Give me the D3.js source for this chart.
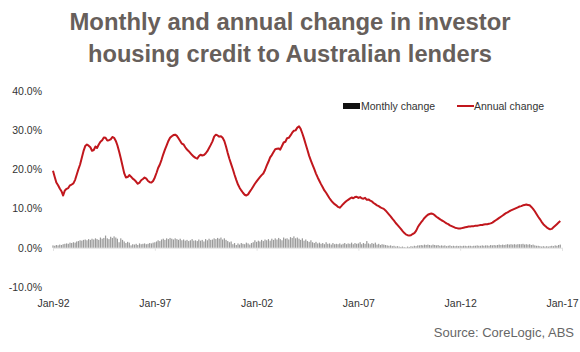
<!DOCTYPE html>
<html>
<head>
<meta charset="utf-8">
<script src="https://cdn.jsdelivr.net/npm/d3@7"></script>
<style>
  body { margin: 0; background: #fff; }
  svg { display: block; }
</style>
</head>
<body>
<div id="chart"></div>
<script>
// data (monthly, Jan-92 .. Dec-16)
const titleLines = [
  'Monthly and annual change in investor',
  'housing credit to Australian lenders'
];
const seriesNames = ['Monthly change', 'Annual change'];
const startYear = 1992;
const yTicks = [-10, 0, 10, 20, 30, 40];
const xTickYears = [1992, 1997, 2002, 2007, 2012, 2017];

const annualChange = [
  19.6, 18.0, 16.6, 15.9, 15.1, 14.4, 13.3, 14.6, 15.0, 15.2, 15.9, 16.1, // 1992
  16.4, 17.3, 18.6, 20.0, 21.2, 22.9, 24.6, 25.9, 26.3, 26.0, 25.6, 24.7, // 1993
  24.9, 25.8, 25.4, 26.3, 27.0, 27.4, 28.1, 28.0, 27.3, 27.4, 27.6, 28.2, // 1994
  28.0, 27.2, 26.1, 24.5, 22.8, 20.9, 19.0, 17.9, 18.0, 18.5, 18.1, 17.6, // 1995
  17.3, 16.8, 16.3, 16.6, 17.2, 17.5, 17.9, 17.6, 17.0, 16.7, 16.6, 17.0, // 1996
  17.9, 19.1, 20.3, 21.2, 22.4, 23.8, 25.0, 26.1, 27.2, 28.0, 28.4, 28.7, // 1997
  28.8, 28.5, 27.9, 27.2, 26.5, 26.3, 25.6, 25.0, 24.6, 24.1, 23.6, 23.2, // 1998
  22.9, 22.7, 23.3, 23.7, 23.5, 23.6, 24.0, 24.6, 25.4, 26.2, 27.1, 28.3, // 1999
  28.8, 28.6, 28.3, 28.4, 28.0, 27.2, 25.8, 24.1, 22.6, 21.3, 20.0, 18.6, // 2000
  17.3, 16.1, 15.3, 14.6, 14.0, 13.5, 13.3, 13.6, 14.3, 14.9, 15.6, 16.3, // 2001
  16.9, 17.5, 18.0, 18.5, 18.9, 19.8, 20.9, 21.9, 23.0, 23.6, 24.4, 25.1, // 2002
  25.2, 25.3, 25.0, 25.9, 26.8, 27.0, 27.9, 28.0, 28.6, 29.3, 29.8, 29.9, // 2003
  30.6, 30.9, 30.3, 29.1, 27.8, 26.3, 24.9, 23.4, 22.2, 21.1, 20.0, 18.9, // 2004
  17.9, 17.0, 16.2, 15.4, 14.6, 14.0, 13.3, 12.6, 12.0, 11.5, 11.1, 10.8, // 2005
  10.4, 10.2, 10.6, 11.1, 11.5, 11.9, 12.2, 12.5, 12.8, 12.6, 12.9, 13.0, // 2006
  12.7, 12.9, 12.6, 12.5, 12.7, 12.2, 12.3, 12.0, 11.8, 11.4, 11.1, 10.8, // 2007
  10.6, 10.3, 10.1, 9.9, 9.5, 9.0, 8.5, 8.0, 7.4, 6.9, 6.3, 5.8, // 2008
  5.3, 4.8, 4.3, 3.8, 3.4, 3.2, 3.1, 3.2, 3.5, 3.7, 4.3, 5.2, // 2009
  5.9, 6.5, 7.0, 7.6, 8.0, 8.4, 8.6, 8.7, 8.6, 8.3, 7.9, 7.6, // 2010
  7.3, 7.0, 6.8, 6.5, 6.2, 6.0, 5.7, 5.5, 5.3, 5.1, 5.0, 4.9, // 2011
  4.9, 5.0, 5.1, 5.2, 5.3, 5.4, 5.4, 5.5, 5.5, 5.6, 5.6, 5.7, // 2012
  5.8, 5.8, 5.9, 6.0, 6.0, 6.1, 6.2, 6.4, 6.7, 7.0, 7.3, 7.6, // 2013
  7.9, 8.2, 8.5, 8.8, 9.0, 9.3, 9.5, 9.7, 9.9, 10.1, 10.3, 10.5, // 2014
  10.6, 10.8, 10.9, 11.0, 10.9, 10.8, 10.4, 9.9, 9.3, 8.6, 7.9, 7.3, // 2015
  6.6, 6.0, 5.6, 5.2, 4.9, 4.7, 4.8, 5.2, 5.6, 6.0, 6.4, 6.8 // 2016
];

const monthlyChange = [
  0.6, 0.5, 0.7, 0.6, 0.8, 0.7, 0.9, 1.0, 1.1, 1.0, 1.3, 1.2, // 1992
  1.4, 1.3, 1.6, 1.7, 1.9, 1.8, 2.0, 2.1, 1.9, 2.2, 2.0, 2.3, // 1993
  2.1, 2.4, 2.2, 2.0, 2.6, 2.3, 2.5, 3.1, 2.4, 2.2, 2.8, 2.5, // 1994
  2.9, 2.6, 2.3, 1.4, 2.4, 2.0, 1.6, 1.2, 1.5, 1.3, 0.6, 0.9, // 1995
  0.8, 1.0, 0.7, 1.1, 0.9, 1.0, 1.1, 0.9, 1.0, 1.2, 1.1, 1.3, // 1996
  1.4, 1.6, 1.9, 1.7, 2.1, 2.3, 2.0, 2.4, 2.2, 2.5, 2.3, 2.1, // 1997
  2.4, 2.2, 2.0, 2.3, 1.9, 2.1, 1.8, 2.0, 1.7, 1.9, 2.2, 1.8, // 1998
  1.9, 1.7, 2.1, 1.8, 2.0, 1.6, 2.2, 1.9, 2.3, 2.0, 2.1, 2.4, // 1999
  2.2, 2.5, 2.3, 2.6, 2.1, 2.4, 2.0, 1.7, 1.4, 1.6, 0.9, 1.2, // 2000
  0.7, 1.1, 0.8, 1.2, 1.0, 0.9, 1.3, 1.1, 0.8, 1.2, 1.4, 1.9, // 2001
  1.5, 1.8, 1.6, 2.0, 1.7, 2.1, 1.9, 2.2, 1.8, 2.3, 2.0, 2.4, // 2002
  2.1, 2.5, 2.2, 1.9, 2.6, 2.3, 2.4, 2.1, 2.7, 2.5, 2.9, 2.4, // 2003
  2.6, 2.3, 2.0, 2.4, 1.8, 2.1, 1.7, 1.5, 1.9, 1.4, 1.2, 1.5, // 2004
  1.1, 1.3, 1.0, 1.2, 0.9, 1.4, 1.0, 1.1, 0.8, 1.2, 0.9, 1.0, // 2005
  0.9, 1.1, 0.8, 1.0, 1.2, 0.9, 1.1, 1.0, 1.3, 0.9, 1.2, 1.0, // 2006
  1.1, 1.4, 0.9, 1.2, 1.0, 1.7, 1.1, 0.9, 1.2, 1.0, 1.3, 0.8, // 2007
  1.0, 0.7, 0.9, 0.8, 0.7, 0.6, 0.5, 0.6, 0.4, 0.5, 0.3, 0.4, // 2008
  0.3, 0.2, 0.3, 0.2, 0.1, 0.3, 0.2, 0.4, 0.3, 0.5, 0.4, 0.6, // 2009
  0.6, 0.7, 0.6, 0.8, 0.7, 0.8, 0.7, 0.6, 0.8, 0.7, 0.6, 0.7, // 2010
  0.5, 0.6, 0.5, 0.6, 0.4, 0.5, 0.6, 0.4, 0.5, 0.4, 0.5, 0.4, // 2011
  0.5, 0.4, 0.5, 0.5, 0.4, 0.5, 0.5, 0.4, 0.5, 0.5, 0.6, 0.5, // 2012
  0.5, 0.6, 0.5, 0.6, 0.6, 0.5, 0.7, 0.6, 0.7, 0.6, 0.7, 0.8, // 2013
  0.7, 0.8, 0.7, 0.8, 0.9, 0.8, 0.9, 0.8, 0.9, 0.8, 0.9, 0.9, // 2014
  0.9, 1.0, 0.8, 0.9, 0.8, 0.9, 0.7, 0.8, 0.6, 0.5, 0.5, 0.4, // 2015
  0.3, 0.4, 0.3, 0.4, 0.3, 0.4, 0.5, 0.4, 0.6, 0.5, 0.7, 0.8 // 2016
];

const option = {
  width: 580,
  height: 352,
  plot: {left: 53, right: 562, top: 90.7, bottom: 287},
  red: '#c1171d',
  grey: '#9a9a9a',
  textColor: '#333'
};

const monthDate = (i) => new Date(startYear + Math.floor(i / 12), i % 12, 1);

const rows = annualChange.map((v, i) => ({
  date: monthDate(i),
  annual: v,
  monthly: monthlyChange[i]
}));

const svg = d3.select('#chart')
    .append('svg')
    .attr('width', option.width)
    .attr('height', option.height);

// title
svg.selectAll('.title')
    .data(titleLines)
    .enter()
    .append('text')
    .attr('class', 'title')
    .attr('x', 290)
    .attr('y', (d, i) => 30 + i * 31.5)
    .attr('text-anchor', 'middle')
    .attr('textLength', (d, i) => i === 0 ? 441 : 404)
    .attr('lengthAdjust', 'spacingAndGlyphs')
    .style('font-family', '"Liberation Sans", Arial, sans-serif')
    .style('font-weight', 'bold')
    .style('font-size', '23.5px')
    .style('fill', '#675f5b')
    .text((d) => d);

// scales
const x = d3.scaleTime()
    .domain([new Date(1992, 0, 1), new Date(2017, 0, 1)])
    .range([option.plot.left, option.plot.right]);

const y = d3.scaleLinear()
    .domain([-10, 40])
    .range([option.plot.bottom, option.plot.top]);

// y axis labels only
const yAxis = svg.append('g')
    .attr('transform', 'translate(42,0)')
    .call(d3.axisLeft(y)
        .tickValues(yTicks)
        .tickSize(0)
        .tickPadding(0)
        .tickFormat((d) => d.toFixed(1) + '%'));
yAxis.select('.domain').remove();
yAxis.selectAll('text')
    .style('font-family', '"Liberation Sans", Arial, sans-serif')
    .style('font-size', '10.5px')
    .style('fill', option.textColor);

// faint zero axis with ticks
const zeroAxis = svg.append('g')
    .attr('transform', `translate(0,${y(0)})`)
    .call(d3.axisBottom(x)
        .tickValues(xTickYears.map((yr) => new Date(yr, 0, 1)))
        .tickSize(3)
        .tickFormat(''));
zeroAxis.selectAll('path, line').attr('stroke', '#e2e2e2');

// x axis labels at bottom
const xAxis = svg.append('g')
    .attr('transform', `translate(0,${option.plot.bottom + 10})`)
    .call(d3.axisBottom(x)
        .tickValues(xTickYears.map((yr) => new Date(yr, 0, 1)))
        .tickSize(0)
        .tickFormat(d3.timeFormat('Jan-%y')));
xAxis.select('.domain').remove();
xAxis.selectAll('text')
    .style('font-family', '"Liberation Sans", Arial, sans-serif')
    .style('font-size', '10.5px')
    .style('fill', option.textColor);

// monthly change bars
const barW = (x(monthDate(1)) - x(monthDate(0))) * 0.7;
svg.selectAll('.bar')
    .data(rows)
    .enter()
    .append('rect')
    .attr('class', 'bar')
    .attr('x', (d) => x(d.date) - barW / 2)
    .attr('y', (d) => y(Math.max(0, d.monthly)))
    .attr('width', barW)
    .attr('height', (d) => Math.abs(y(d.monthly) - y(0)))
    .attr('fill', option.grey);

// annual change line
const line = d3.line()
    .x((d) => x(d.date))
    .y((d) => y(d.annual));

svg.append('path')
    .datum(rows)
    .attr('fill', 'none')
    .attr('stroke', option.red)
    .attr('stroke-width', 2)
    .attr('stroke-linejoin', 'round')
    .attr('d', line);

// legend
const legend = svg.append('g')
    .style('font-family', '"Liberation Sans", Arial, sans-serif')
    .style('font-size', '10.5px')
    .style('fill', option.textColor);

legend.append('rect')
    .attr('x', 343)
    .attr('y', 103)
    .attr('width', 17)
    .attr('height', 6)
    .attr('fill', '#111');
legend.append('text')
    .attr('x', 361)
    .attr('y', 110)
    .text(seriesNames[0]);

legend.append('line')
    .attr('x1', 457)
    .attr('x2', 474)
    .attr('y1', 106)
    .attr('y2', 106)
    .attr('stroke', option.red)
    .attr('stroke-width', 2);
legend.append('text')
    .attr('x', 474)
    .attr('y', 110)
    .text(seriesNames[1]);

// source
svg.append('text')
    .attr('x', 574)
    .attr('y', 337)
    .attr('text-anchor', 'end')
    .style('font-family', '"Liberation Sans", Arial, sans-serif')
    .style('font-size', '13px')
    .style('fill', '#666')
    .text('Source: CoreLogic, ABS');
</script>
</body>
</html>
